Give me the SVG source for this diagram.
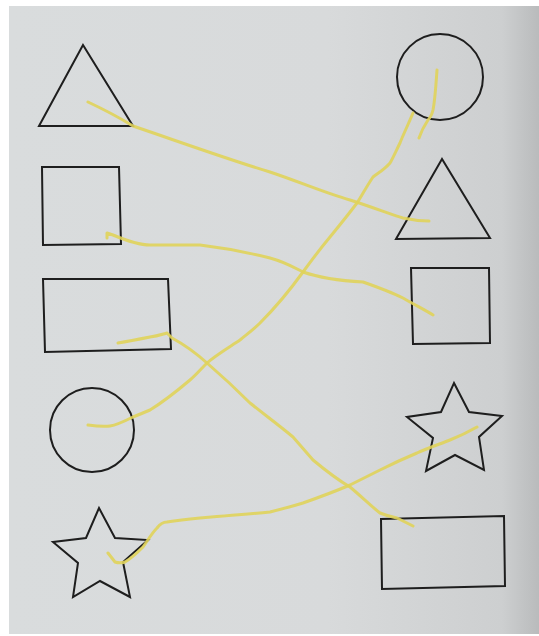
<svg xmlns="http://www.w3.org/2000/svg" width="539" height="636" viewBox="0 0 539 636">
<defs>
<linearGradient id="paper" x1="0" y1="0" x2="1" y2="0">
<stop offset="0" stop-color="#d9dcdd"/>
<stop offset="0.6" stop-color="#d8dadb"/>
<stop offset="0.93" stop-color="#cdcfd0"/>
<stop offset="1" stop-color="#b9bbbc"/>
</linearGradient>
<style>
.shape{fill:none;stroke:#1e1e1e;stroke-width:2;stroke-linejoin:miter}
.ink{fill:none;stroke:#e0d35a;stroke-width:3;stroke-linecap:round;stroke-linejoin:round;opacity:0.9}
</style>
</defs>
<rect x="0" y="0" width="539" height="636" fill="#ffffff"/>
<rect x="9" y="6" width="530" height="628" fill="url(#paper)"/>
<g id="left-triangle"><polygon class="shape" points="83,45 39,126 133,126"/></g>
<g id="left-square"><polygon class="shape" points="42,167 119,167 121,244 43,245"/></g>
<g id="left-rectangle"><polygon class="shape" points="43,279 168,279 171,349 45,352"/></g>
<g id="left-circle"><circle class="shape" cx="92" cy="430" r="42"/></g>
<g id="left-star"><polygon class="shape" points="99,508 115,538 148,540 123,562 130,597 100,581 73,597 78,563 53,542 86,538"/></g>
<g id="right-circle"><circle class="shape" cx="440" cy="77" r="43"/></g>
<g id="right-triangle"><polygon class="shape" points="442,159 396,239 490,238"/></g>
<g id="right-square"><polygon class="shape" points="411,268 489,268 490,343 413,344"/></g>
<g id="right-star"><polygon class="shape" points="454,383 469,412 502,416 479,437 484,470 455,455 426,471 433,438 407,417 441,412"/></g>
<g id="right-rectangle"><polygon class="shape" points="381,519 504,516 505,586 382,589"/></g>
<g id="connectors">
<path class="ink" d="M88,102 C105,110 120,118 133,126 C180,142 230,160 270,172 C300,182 325,193 350,200 C375,208 395,216 403,218 C412,220 422,221 429,221"/>
<path class="ink" d="M107,238 L107,233 L113,235 C125,240 138,245 150,245 C170,245 185,245 200,245 C225,248 250,253 270,258 C285,262 295,268 303,272 C320,278 345,281 363,282 C380,288 395,294 403,298 C415,305 425,310 433,315"/>
<path class="ink" d="M437,70 C436,85 435,100 433,110 C432,114 430,118 428,120 C424,126 421,132 419,138"/>
<path class="ink" d="M413,113 C408,125 403,135 400,143 C396,151 393,158 390,163 C384,170 378,173 373,177 C367,186 362,195 357,203 C348,215 339,226 330,237 C320,249 311,261 303,272 C290,290 275,308 260,323 C253,330 246,335 240,340 C228,348 216,355 207,363 C201,369 196,375 190,380 C177,391 163,402 150,410 C143,413 138,415 133,417 C125,421 117,425 110,426 C102,427 95,426 88,425"/>
<path class="ink" d="M118,343 C130,341 140,339 150,337 C158,336 163,334 167,333 L172,338 C185,345 197,354 207,363 C222,376 237,390 250,403 C265,415 280,426 293,437 C300,445 307,453 313,460 C325,470 338,480 350,487 C362,497 372,507 380,513 C387,516 392,517 397,518 C403,521 409,524 413,526"/>
<path class="ink" d="M108,553 L115,562 C118,563 122,563 125,562 C132,558 138,552 143,547 C148,540 152,533 157,528 C160,524 163,522 167,522 C180,520 190,519 200,518 C225,516 250,514 270,512 C283,509 293,506 303,503 C320,497 336,491 350,485 C360,480 370,475 380,470 C392,464 405,458 417,453 C428,448 440,444 450,440 C460,436 470,431 477,427"/>
</g>
</svg>
